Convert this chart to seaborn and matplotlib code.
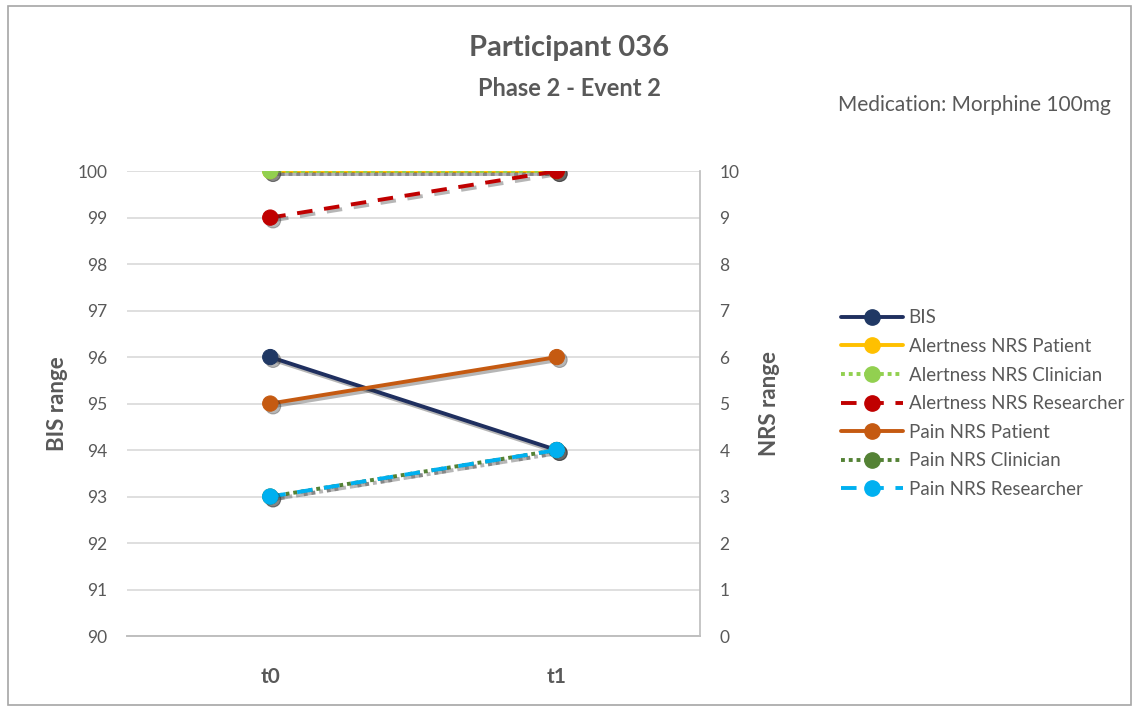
import matplotlib
matplotlib.use("Agg")
import matplotlib.pyplot as plt
import matplotlib.patheffects as pe
from matplotlib.patches import Rectangle
from matplotlib.lines import Line2D
import seaborn as sns
import pandas as pd

times = ["t0", "t1"]
bis = [96, 94]
alert_patient = [10, 10]
alert_clinician = [10, 10]
alert_researcher = [9, 10]
pain_patient = [5, 6]
pain_clinician = [3, 4]
pain_researcher = [3, 4]

sns.set_theme(style="white")
plt.rcParams['font.family'] = ['Lato', 'DejaVu Sans']

fig = plt.figure(figsize=(11.39, 7.10), dpi=100)
ax = fig.add_axes([0.1115, 0.1042, 0.5031, 0.6548])
ax2 = ax.twinx()

shadow = [pe.SimplePatchShadow(offset=(2, -2), alpha=0.35, shadow_rgbFace='#303030'),
          pe.SimpleLineShadow(offset=(2, -2), alpha=0.35, shadow_color='#303030'),
          pe.Normal()]
lw = 2.8
ms = 11

series = [
    (ax, "BIS", bis, "#1F2F5F", "#203864", "-"),
    (ax2, "Alertness NRS Patient", alert_patient, "#FFC000", "#FFC000", "-"),
    (ax2, "Alertness NRS Clinician", alert_clinician, "#92D050", "#92D050", (0, (1, 1))),
    (ax2, "Alertness NRS Researcher", alert_researcher, "#C00000", "#C00000", (0, (4, 3))),
    (ax2, "Pain NRS Patient", pain_patient, "#C55A11", "#C55A11", "-"),
    (ax2, "Pain NRS Clinician", pain_clinician, "#548235", "#548235", (0, (1, 1))),
    (ax2, "Pain NRS Researcher", pain_researcher, "#00B0F0", "#00B0F0", (0, (4, 3))),
]

handles = []
for a, name, vals, col, mcol, ls in series:
    df = pd.DataFrame({"time": times, "value": vals})
    sns.lineplot(data=df, x="time", y="value", ax=a, color=col, linewidth=lw,
                 linestyle=ls, marker="o", markersize=ms, markerfacecolor=mcol,
                 markeredgecolor=mcol, legend=False)
    a.lines[-1].set_path_effects(shadow)
    handles.append(Line2D([], [], color=col, linewidth=lw, linestyle=ls, marker="o",
                          markersize=ms, markerfacecolor=mcol, markeredgecolor=mcol))

tick_col = "#595959"
ax.set_xlim(-0.5, 1.5)
ax.set_ylim(90, 100)
ax.set_yticks(range(90, 101))
ax2.set_ylim(0, 10)
ax2.set_yticks(range(0, 11))
ax.yaxis.grid(True, color="#D9D9D9", linewidth=1.2)
ax.set_axisbelow(True)

for a in (ax, ax2):
    for s in ("top", "left"):
        a.spines[s].set_visible(False)
    a.spines["right"].set_visible(a is ax2)
    a.spines["bottom"].set_color("#BFBFBF")
    a.spines["right"].set_color("#BFBFBF")
    a.tick_params(axis="y", colors=tick_col, labelsize=12.5, length=0, pad=14)
ax2.tick_params(axis="y", pad=14)
ax.tick_params(axis="x", colors=tick_col, labelsize=15, length=0, pad=22)
for t in ax.get_xticklabels():
    t.set_fontweight("bold")

ax.set_xlabel("")
ax.set_ylabel("BIS range", fontsize=16, fontweight="bold", color=tick_col, labelpad=7)
ax2.set_ylabel("NRS range", fontsize=16, fontweight="bold", color=tick_col, labelpad=14)

fig.text(0.5, 0.932, "Participant 036", ha="center", va="center", fontsize=21,
         fontweight="bold", color=tick_col)
fig.text(0.5, 0.875, "Phase 2 - Event 2", ha="center", va="center", fontsize=17,
         fontweight="bold", color=tick_col)
fig.text(0.975, 0.852, "Medication: Morphine 100mg", ha="right", va="center",
         fontsize=15, color=tick_col)

leg = fig.legend(handles, [s[1] for s in series], loc="upper left",
                 bbox_to_anchor=(0.732, 0.575), frameon=False, fontsize=13.5,
                 handlelength=3.3, labelspacing=0.62, handletextpad=0.3, borderaxespad=0)
for t in leg.get_texts():
    t.set_color(tick_col)

fig.patches.append(Rectangle((0.007, 0.007), 0.986, 0.984, transform=fig.transFigure,
                             fill=False, edgecolor="#A6A6A6", linewidth=1.2))

fig.savefig("out.png", dpi=100)
